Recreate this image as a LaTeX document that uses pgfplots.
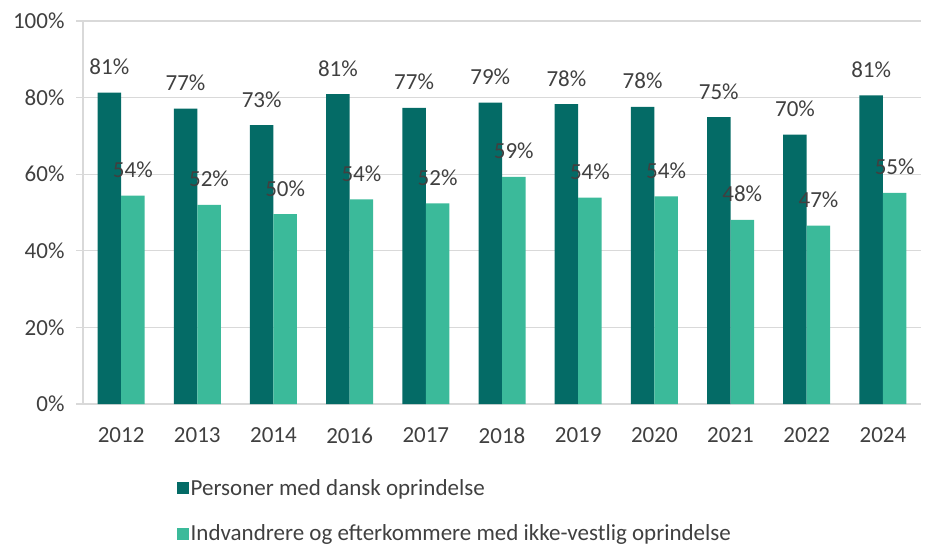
\documentclass[border=0pt]{standalone}
\usepackage{pgfplots}
\pgfplotsset{compat=1.18}
\usepackage{pgfplotstable}
\usepackage{fontspec}
\setmainfont{Carlito}
\definecolor{darkc}{HTML}{046B66}
\definecolor{lightc}{HTML}{3BBA9A}
\definecolor{txt}{HTML}{404040}
\definecolor{gridc}{HTML}{D9D9D9}

\pgfplotstableread{
x dark dl light ll
0 81.3 81 54.4 54
1 77.1 77 52.0 52
2 72.8 73 49.6 50
3 80.9 81 53.4 54
4 77.3 77 52.4 52
5 78.7 79 59.3 59
6 78.3 78 53.9 54
7 77.6 78 54.2 54
8 74.9 75 48.1 48
9 70.3 70 46.6 47
10 80.6 81 55.1 55
}\data

\begin{document}
\begin{tikzpicture}[font=\fontsize{23bp}{27bp}\selectfont]
\begin{axis}[
  scale only axis, width=838bp, height=383bp,
  xmin=-0.5, xmax=10.5, ymin=0, ymax=100,
  ybar=0pt, bar width=23.5bp,
  xtick={0,...,10},
  xticklabels={2012,2013,2014,2016,2017,2018,2019,2020,2021,2022,2024},
  ytick={0,20,...,100},
  yticklabel={\pgfmathprintnumber{\tick}\%},
  /pgf/number format/assume math mode=true,
  ymajorgrids, grid style={gridc, line width=1.3bp},
  axis x line*=bottom, axis y line*=left,
  axis line style={gridc, line width=1.3bp},
  major tick length=7bp, tick align=outside,
  xtick style={draw=none}, ytick style={gridc, line width=1.3bp},
  tick label style={text=txt},
  xticklabel style={yshift=-13bp},
  yticklabel style={xshift=-8bp},
  point meta=explicit,
  nodes near coords={\pgfmathprintnumber{\pgfplotspointmeta}\%},
  every node near coord/.append style={text=txt, anchor=base, yshift=18bp},
  legend style={at={(0.108,-0.186)}, anchor=north west, draw=none, fill=none,
    legend cell align=left, row sep=24bp, text=txt},
  legend image code/.code={\fill[#1,draw=none] (0bp,-6bp) rectangle (12bp,6bp);},
]
\addplot[fill=darkc, draw=none] table[x=x, y=dark, meta=dl] {\data};
\addplot[fill=lightc, draw=none] table[x=x, y=light, meta=ll] {\data};
\legend{Personer med dansk oprindelse, Indvandrere og efterkommere med ikke-vestlig oprindelse}
\coordinate (sw) at (rel axis cs:0,0);
\coordinate (ne) at (rel axis cs:1,1);
\end{axis}
\pgfresetboundingbox
\path ([xshift=-83bp,yshift=-141bp]sw) rectangle ([xshift=7bp,yshift=21bp]ne);
\end{tikzpicture}
\end{document}
